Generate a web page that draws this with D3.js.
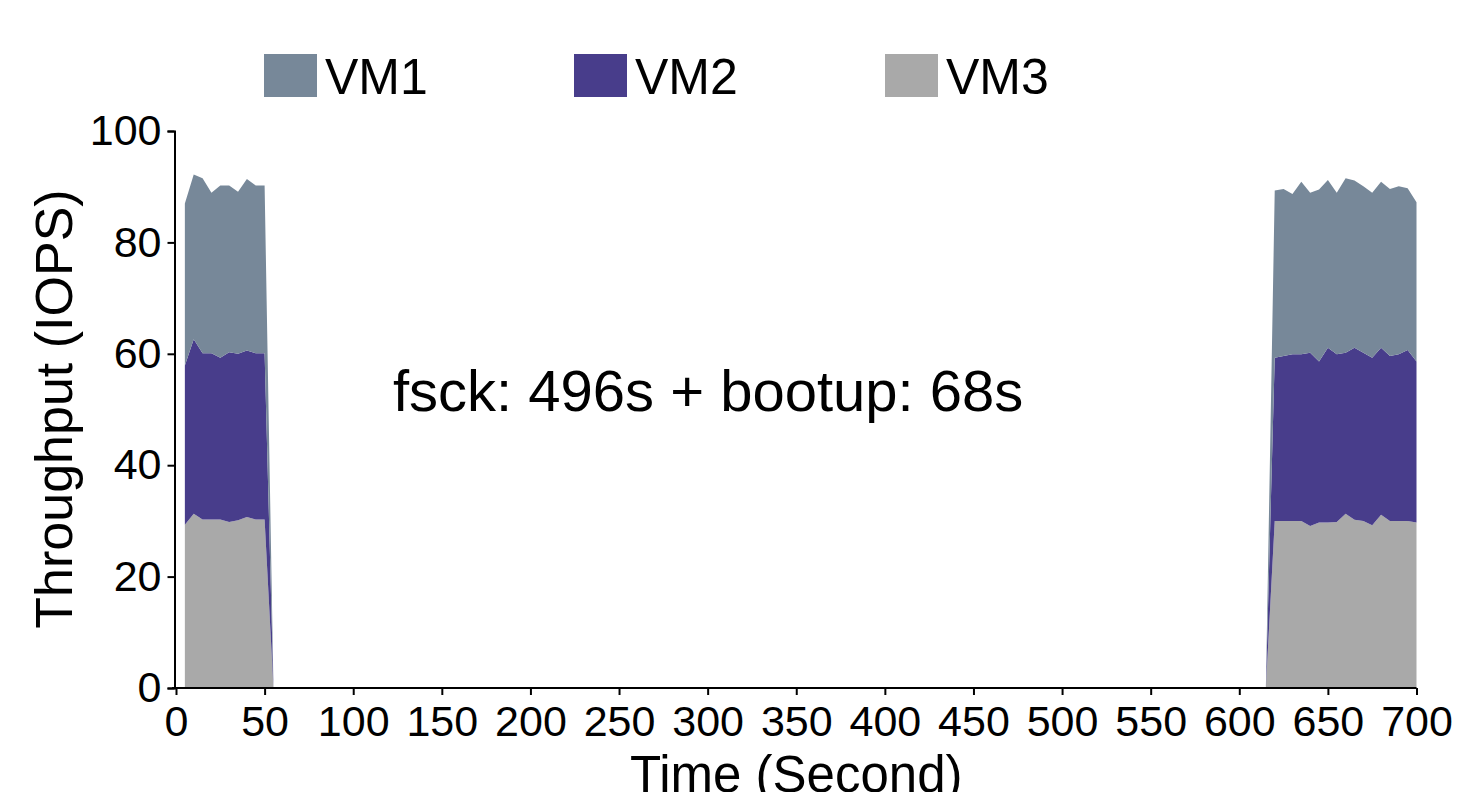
<!DOCTYPE html>
<html>
<head>
<meta charset="utf-8">
<script src="https://cdn.jsdelivr.net/npm/d3@7"></script>
<style>
  html, body { margin: 0; padding: 0; background: #fff; }
  svg { display: block; font-family: "Liberation Sans", Arial, Helvetica, sans-serif; }
</style>
</head>
<body>
<svg id="chart" width="1457" height="792"></svg>
<script>
// Sample times (seconds), one sample every 5 s while the VMs are running
const times = [5, 10, 15, 20, 25, 30, 35, 40, 45, 50, 55,
               615, 620, 625, 630, 635, 640, 645, 650, 655, 660, 665, 670, 675, 680, 685, 690, 695, 700];

// Per-VM throughput (IOPS)
const vm1 = [29.1, 29.6, 31.4, 28.8, 30.9, 29.9, 29.1, 30.8, 30.1, 30.1, 0,
             0, 30.0, 30.0, 28.8, 31.0, 28.7, 30.9, 30.1, 29.0, 31.3, 30.0, 29.9, 29.6, 29.8, 30.0, 30.2, 29.0, 28.6];
const vm2 = [28.6, 31.3, 29.85, 29.85, 29.05, 30.5, 29.9, 29.9, 29.85, 29.85, 0,
             0, 29.3, 29.6, 29.9, 29.9, 31.1, 28.9, 31.4, 30.1, 28.9, 30.9, 30.2, 30.1, 30.0, 29.6, 29.9, 30.7, 28.9];
const vm3 = [29.3, 31.3, 30.25, 30.25, 30.25, 29.8, 30.1, 30.7, 30.25, 30.25, 0,
             0, 30.0, 30.0, 30.0, 30.0, 29.1, 29.7, 29.7, 29.8, 31.3, 30.2, 30.0, 29.2, 31.1, 30.0, 30.0, 30.0, 29.7];

const seriesNames = ["VM1", "VM2", "VM3"];
const seriesColors = { VM1: "#778899", VM2: "#483D8B", VM3: "#A9A9A9" };

const xTicks = [0, 50, 100, 150, 200, 250, 300, 350, 400, 450, 500, 550, 600, 650, 700];
const yTicks = [0, 20, 40, 60, 80, 100];

const annotation = "fsck: 496s + bootup: 68s";

const rows = times.map((t, i) => ({ t, VM1: vm1[i], VM2: vm2[i], VM3: vm3[i] }));

const svg = d3.select("#chart");
const x = d3.scaleLinear().domain([0, 700]).range([176, 1416.5]);
const y = d3.scaleLinear().domain([0, 100]).range([688, 131]);

// Stack with VM3 at the bottom, then VM2, then VM1 on top
const stacked = d3.stack().keys(["VM3", "VM2", "VM1"])(rows);

const area = d3.area()
  .x(d => x(d.data.t))
  .y0(d => y(d[0]))
  .y1(d => y(d[1]));

svg.append("g")
  .selectAll("path")
  .data(stacked)
  .join("path")
  .attr("d", area)
  .attr("fill", d => seriesColors[d.key]);

// Axes
const xAxis = svg.append("g")
  .attr("transform", `translate(0,${y(0)})`)
  .call(d3.axisBottom(x).tickValues(xTicks).tickFormat(d3.format("d")).tickSizeOuter(0).tickSize(7).tickPadding(10));
const yAxis = svg.append("g")
  .attr("transform", `translate(${x(0) - 1.5},0)`)
  .call(d3.axisLeft(y).tickValues(yTicks).tickFormat(d3.format("d")).tickSizeOuter(0).tickSize(7).tickPadding(6));

[xAxis, yAxis].forEach(g => {
  g.select(".domain").attr("stroke", "#000").attr("stroke-width", 2);
  g.selectAll(".tick line").attr("stroke", "#000").attr("stroke-width", 2);
  g.selectAll(".tick text").attr("fill", "#000").style("font-size", "43px");
});
xAxis.select(".domain").attr("d", `M${x(0) - 4},0H${x(700)}`);

// Axis titles
svg.append("text")
  .attr("x", (x(0) + x(700)) / 2)
  .attr("y", 792)
  .attr("text-anchor", "middle")
  .style("font-size", "51px")
  .text("Time (Second)");

svg.append("text")
  .attr("transform", `translate(72,409) rotate(-90)`)
  .attr("text-anchor", "middle")
  .style("font-size", "52px")
  .text("Throughput (IOPS)");

// Annotation
svg.append("text")
  .attr("x", 393)
  .attr("y", 411)
  .style("font-size", "58px")
  .text(annotation);

// Legend
const legendX = [264, 574, 885];
const legend = svg.append("g")
  .selectAll("g")
  .data(seriesNames)
  .join("g")
  .attr("transform", (d, i) => `translate(${legendX[i]},54)`);
legend.append("rect")
  .attr("width", 53).attr("height", 43)
  .attr("fill", d => seriesColors[d]);
legend.append("text")
  .attr("x", 61).attr("y", 40)
  .style("font-size", "50px")
  .text(d => d);
</script>
</body>
</html>
